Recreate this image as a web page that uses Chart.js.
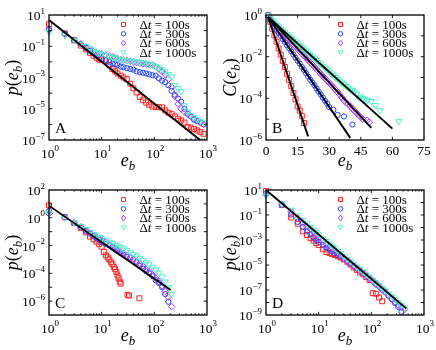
<!DOCTYPE html>
<html><head><meta charset="utf-8">
<script src="https://cdn.jsdelivr.net/npm/chart.js@4.4.0/dist/chart.umd.min.js"></script>
<style>
html,body{margin:0;padding:0;background:#fff;overflow:hidden}
#wrap{position:relative;width:436px;height:350px;background:#fff}
#wrap canvas{position:absolute}
</style></head><body>
<div id="wrap">
<canvas id="cA" width="218" height="175" style="left:0;top:0"></canvas>
<canvas id="cB" width="218" height="175" style="left:218px;top:0"></canvas>
<canvas id="cC" width="218" height="175" style="left:0;top:175px"></canvas>
<canvas id="cD" width="218" height="175" style="left:218px;top:175px"></canvas>
</div>
<script>
// ---------- shared ----------
const seriesNames = ['100s','300s','600s','1000s'];
const logXMajor = [1,10,100,1000];
const logXMinor = [2,3,4,5,6,7,8,9,20,30,40,50,60,70,80,90,200,300,400,500,600,700,800,900];

// ---------- panel A : p(e_b), log-log ----------
const aX = [1,2,3,4,5,6,7,8,9,10,12,14,16,18,20,23,26,30,35,40,46,53,61,70,80,92,106,122,140,161,185,213,245,282,324,373,429,493,567,652,750,862];
const aP100 = [2.6,0.66,0.24,0.11,6.3e-2,3.8e-2,2.5e-2,1.8e-2,1.4e-2,1.3e-2,1.1e-2,6.3e-3,3.5e-3,2.5e-3,1.8e-3,1.3e-3,1.0e-3,7.8e-4,4.0e-4,2.0e-4,1.1e-4,5.6e-5,3.5e-5,2.5e-5,1.8e-5,1.4e-5,1.3e-5,1.26e-5,1.2e-5,7.9e-6,5.6e-6,4.5e-6,3.2e-6,2.3e-6,1.8e-6,1.3e-6,6.6e-7,6.3e-7,5.0e-7,4.1e-7,3.2e-7,2.5e-7];
const aP300 = [1.3,0.63,0.25,0.14,7.9e-2,5.0e-2,3.5e-2,2.5e-2,2.0e-2,1.6e-2,1.3e-2,1.0e-2,7.9e-3,7.1e-3,6.3e-3,5.0e-3,4.5e-3,4.0e-3,3.5e-3,3.2e-3,2.5e-3,2.2e-3,2.0e-3,1.8e-3,1.6e-3,1.4e-3,1.3e-3,8.9e-4,6.3e-4,5.0e-4,3.2e-4,1.4e-4,7.9e-5,4.5e-5,2.8e-5,1.0e-5,5.0e-6,3.2e-6,2.0e-6,1.6e-6,1.4e-6,1.0e-6];
const aP600 = [1.1,0.56,0.25,0.14,8.9e-2,6.3e-2,4.5e-2,3.8e-2,3.4e-2,3.2e-2,2.8e-2,2.4e-2,2.1e-2,1.8e-2,1.6e-2,1.4e-2,1.3e-2,1.2e-2,1.1e-2,1.0e-2,9.1e-3,8.3e-3,7.6e-3,7.1e-3,6.6e-3,6.3e-3,5.0e-3,3.5e-3,2.5e-3,1.6e-3,7.9e-4,2.5e-4,6.3e-5,2.0e-5,1.0e-5,6.3e-6,4.5e-6,3.2e-6,2.5e-6,1.8e-6,1.3e-6,1.0e-6];
const aP1000 = [0.79,0.5,0.25,0.14,0.1,7.1e-2,5.0e-2,4.2e-2,3.6e-2,3.2e-2,2.6e-2,2.2e-2,2.0e-2,1.8e-2,1.6e-2,1.45e-2,1.35e-2,1.26e-2,1.17e-2,1.1e-2,1.02e-2,9.5e-3,8.9e-3,7.9e-3,7.1e-3,6.3e-3,5.2e-3,4.2e-3,3.2e-3,2.4e-3,1.6e-3,1.1e-3,3.2e-4,2.0e-4,1.26e-4,1.6e-5,6.3e-6,4.0e-6,2.8e-6,2.0e-6,1.6e-6,1.26e-6];
const aFitX = [1,740];
const aFitY = [4.8,1e-7];
const aYMarks = [1e1,1,1e-1,1e-2,1e-3,1e-4,1e-5,1e-6,1e-7];
const aYLabels = [1e1,1e-1,1e-3,1e-5,1e-7];

// ---------- panel B : C(e_b), lin-log ----------
const bX100 = [1,2,3,4,5,6,7,8,9,10,11,12,13,14,15,16,17,18];
const bC100 = [1,0.47,0.22,0.105,5.2e-2,2.5e-2,1.26e-2,6.3e-3,3.2e-3,1.5e-3,7.6e-4,3.8e-4,1.8e-4,8.9e-5,4.1e-5,2.6e-5,1.4e-5,6.5e-6];
const bX300 = [1,2,3,4,5,6,7,8,9,10,11,12,13,14,15,16,17,18,19,20,21,22,23,24,25,26,27,28,29,30,32,34,37,41];
const bC300 = [1,0.6,0.4,0.28,0.2,0.14,0.1,6.9e-2,5.0e-2,3.5e-2,2.5e-2,1.8e-2,1.26e-2,8.9e-3,6.3e-3,4.6e-3,3.2e-3,2.3e-3,1.6e-3,1.1e-3,7.9e-4,5.8e-4,4.2e-4,3.0e-4,2.1e-4,1.5e-4,1.07e-4,7.6e-5,5.6e-5,3.8e-5,2.8e-5,1.6e-5,1.35e-5,5.5e-6];
const bX600 = [1,2,3,4,5,6,7,8,9,10,11,12,13,14,15,16,17,18,19,20,21,22,23,24,25,26,27,28,29,30,31,32,33,34,35,36,37,38,39,40,41,42,43,44,45,46,48,49];
const bC600 = [1,0.66,0.48,0.37,0.28,0.22,0.17,0.14,0.107,8.3e-2,6.5e-2,5.0e-2,3.9e-2,3.0e-2,2.3e-2,1.8e-2,1.4e-2,1.1e-2,8.7e-3,6.8e-3,5.2e-3,4.1e-3,3.2e-3,2.5e-3,1.95e-3,1.5e-3,1.17e-3,9.1e-4,7.1e-4,5.5e-4,4.4e-4,3.4e-4,2.6e-4,2.0e-4,1.5e-4,1.1e-4,7.9e-5,6.3e-5,5.2e-5,4.2e-5,3.2e-5,2.5e-5,2.0e-5,1.5e-5,1.26e-5,1.0e-5,8.9e-6,7.1e-6];
const bX1000 = [1,2,3,4,5,6,7,8,9,10,11,12,13,14,15,16,17,18,19,20,21,22,23,24,25,26,27,28,29,30,31,32,33,34,35,36,37,38,39,40,41,42,43,44,45,46,47,48,50,52,54,63];
const bC1000 = [1,0.71,0.54,0.43,0.34,0.28,0.22,0.18,0.15,0.12,9.8e-2,7.9e-2,6.5e-2,5.2e-2,4.3e-2,3.5e-2,2.8e-2,2.3e-2,1.9e-2,1.5e-2,1.2e-2,1.0e-2,8.1e-3,6.6e-3,5.4e-3,4.4e-3,3.5e-3,2.9e-3,2.3e-3,1.9e-3,1.5e-3,1.26e-3,1.0e-3,8.3e-4,6.8e-4,5.5e-4,4.5e-4,3.8e-4,3.2e-4,2.6e-4,2.4e-4,2.0e-4,1.6e-4,1.1e-4,1.2e-4,1.0e-4,8.9e-5,7.9e-5,7.2e-5,4.6e-5,2.6e-5,7.8e-6];
const bFit100X = [1,20],  bFit100Y = [0.8,1.5e-6];
const bFit300X = [1,40],  bFit300Y = [0.8,1.26e-6];
const bFit600X = [1,50],  bFit600Y = [0.8,3.8e-6];
const bFit1000X = [1,60], bFit1000Y = [0.8,3.5e-6];
const bXTicks = [0,15,30,45,60,75];
const bYMarks = [1,1e-1,1e-2,1e-3,1e-4,1e-5,1e-6];
const bYLabels = [1,1e-2,1e-4,1e-6];

// ---------- panel C : p(e_b), log-log ----------
const cX = [1,2,3,4,5,6,7,8,9,10,12,14,16,18,20,23,26,30,35,40,46,53,61,70,80,92,106,122,140,161,185,213];
const cX100 = [1,2,3,4,5,6,7,8,9,10,11,12,13,14,15,16,17,18,19,20,21,22,23,31,33,52];
const cP100 = [7.9,1.1,0.42,0.18,8.9e-2,4.4e-2,2.8e-2,1.9e-2,1.26e-2,8.3e-3,3.5e-3,2.0e-3,1.4e-3,1.0e-3,6.3e-4,4.5e-4,2.8e-4,2.0e-4,1.26e-4,7.1e-5,4.4e-5,2.5e-5,1.8e-5,2.8e-6,2.5e-6,1.6e-6];
const cP300 = [3.1,1.15,0.4,0.2,0.11,7.1e-2,4.8e-2,3.4e-2,2.5e-2,1.9e-2,1.3e-2,1.0e-2,7.1e-3,5.2e-3,4.0e-3,2.8e-3,2.1e-3,1.6e-3,1.26e-3,1.0e-3,6.3e-4,3.5e-4,2.2e-4,1.4e-4,1.0e-4,6.3e-5,3.2e-5,2.0e-5,1.0e-5,3.2e-6,8.9e-7,null];
const cP600 = [2.0,1.0,0.45,0.22,0.126,7.9e-2,5.6e-2,4.0e-2,3.2e-2,2.5e-2,1.6e-2,1.1e-2,7.9e-3,6.3e-3,5.0e-3,3.5e-3,2.8e-3,2.0e-3,1.4e-3,1.0e-3,7.1e-4,5.0e-4,3.2e-4,2.0e-4,1.26e-4,7.9e-5,4.5e-5,2.5e-5,1.26e-5,5.0e-6,2.0e-6,4.0e-7];
const cP1000 = [2.2,1.0,0.47,0.25,0.15,9.5e-2,6.6e-2,5.0e-2,4.0e-2,3.3e-2,2.4e-2,1.8e-2,1.4e-2,1.1e-2,9.5e-3,7.6e-3,6.0e-3,4.5e-3,3.2e-3,2.4e-3,1.8e-3,1.26e-3,8.9e-4,6.3e-4,4.5e-4,2.8e-4,1.8e-4,1.1e-4,5.6e-5,2.5e-5,1.0e-5,3.2e-6];
const cFitX = [1,204];
const cFitY = [7.4,6.3e-6];
const cYMarks = [1e2,1e1,1,1e-1,1e-2,1e-3,1e-4,1e-5,1e-6,1e-7];
const cYLabels = [1e2,1,1e-2,1e-4,1e-6];

// ---------- panel D : p(e_b), log-log ----------
const dX = [1,2,3,4,5,6,7,8,9,10,12,14,16,18,20,23,26,30,35,40,46,53,61,70,80,92,106,122,140,161,185,213,245,282,324,373,429];
const dP100 = [8.3,0.63,6.3e-2,2.0e-2,5.0e-3,2.5e-3,1.4e-3,8.9e-4,5.6e-4,4.0e-4,1.8e-4,1.1e-4,8.9e-5,7.6e-5,6.3e-5,5.0e-5,4.0e-5,2.8e-5,1.8e-5,1.1e-5,6.3e-6,4.0e-6,2.5e-6,1.8e-6,1.1e-6,6.3e-7,5.6e-8,5.0e-8,2.5e-8,1.26e-8,null,null,null,null,null,null,null];
const dP300 = [5.4,0.63,0.11,2.8e-2,1.1e-2,5.0e-3,2.8e-3,1.6e-3,1.0e-3,7.1e-4,3.8e-4,2.4e-4,1.7e-4,1.2e-4,8.9e-5,6.3e-5,4.5e-5,3.2e-5,2.1e-5,1.4e-5,8.9e-6,5.6e-6,3.5e-6,2.4e-6,1.4e-6,8.9e-7,5.6e-7,3.5e-7,2.2e-7,1.26e-7,7.1e-8,3.5e-8,1.8e-8,8.9e-9,4.5e-9,1.8e-9,null];
const dP600 = [4.0,0.71,0.18,5.6e-2,2.5e-2,1.26e-2,7.1e-3,4.0e-3,2.5e-3,1.6e-3,7.9e-4,4.5e-4,2.8e-4,1.9e-4,1.3e-4,8.3e-5,5.2e-5,3.3e-5,2.0e-5,1.26e-5,7.9e-6,5.0e-6,3.2e-6,2.0e-6,1.26e-6,7.9e-7,5.0e-7,2.8e-7,1.8e-7,1.0e-7,6.3e-8,3.5e-8,2.0e-8,1.1e-8,6.3e-9,4.0e-9,2.8e-9];
const dP1000 = [3.5,0.79,0.25,8.9e-2,4.0e-2,2.0e-2,1.1e-2,6.6e-3,4.2e-3,2.8e-3,1.4e-3,7.9e-4,5.0e-4,3.3e-4,2.2e-4,1.3e-4,8.3e-5,5.0e-5,3.0e-5,1.9e-5,1.17e-5,7.1e-6,4.4e-6,2.7e-6,1.7e-6,1.05e-6,6.3e-7,3.8e-7,2.3e-7,1.4e-7,8.5e-8,5.0e-8,3.0e-8,1.8e-8,1.05e-8,6.3e-9,3.8e-9];
const dFitX = [1,460];
const dFitY = [10,3.4e-9];
const dYMarks = [1e1,1,1e-1,1e-2,1e-3,1e-4,1e-5,1e-6,1e-7,1e-8,1e-9];
const dYLabels = [1e1,1e-1,1e-3,1e-5,1e-7,1e-9];

// ---------- styles ----------
const SERIF = '"Liberation Serif","Times New Roman",serif';
const seriesColors = ['#ff2222','#2244ff','#b033f2','#55f0c6'];
const pointStyles = ['rect','circle','rectRot','triangle'];
const pointRots = [0,0,0,180];
const pointRadii = [3.5,2.6,3.3,3.6];

function font(size, it){ return (it ? 'italic ' : '') + size + 'px ' + SERIF; }
function segWidth(ctx, segs){ let w = 0; for (const s of segs){ ctx.font = font(s.s, s.i); w += ctx.measureText(s.t).width; } return w; }
function drawSegs(ctx, segs, x, y){
  let cx = x;
  for (const s of segs){ ctx.font = font(s.s, s.i); ctx.fillText(s.t, cx, y + (s.dy || 0)); cx += ctx.measureText(s.t).width; }
}
function expSegs(v){
  const k = Math.round(Math.log10(v));
  return [{t:'10', s:13.5}, {t:(k < 0 ? '\u2212' : '') + Math.abs(k), s:9, dy:-6.5}];
}
function drawMarker(ctx, k, x, y){
  ctx.beginPath();
  if (k === 0) ctx.rect(x - 2, y - 2, 4, 4);
  else if (k === 1) ctx.arc(x, y, 2.2, 0, Math.PI * 2);
  else if (k === 2){ ctx.moveTo(x, y - 2.8); ctx.lineTo(x + 2.2, y); ctx.lineTo(x, y + 2.8); ctx.lineTo(x - 2.2, y); ctx.closePath(); }
  else { ctx.moveTo(x - 2.6, y - 1.6); ctx.lineTo(x + 2.6, y - 1.6); ctx.lineTo(x, y + 2.6); ctx.closePath(); }
  ctx.stroke();
}

const panels = [
  {canvas:'cA', letter:'A', yName:'p', xType:'logarithmic', xMin:1, xMax:1000, yMin:1e-7, yMax:1e1, left:49, right:207,
   xMajor:logXMajor, xMinor:logXMinor, xLabels:logXMajor, yMarks:aYMarks, yLabels:aYLabels,
   series:[[aX,aP100],[aX,aP300],[aX,aP600],[aX,aP1000]], fits:[[aFitX,aFitY]]},
  {canvas:'cB', letter:'B', yName:'C', xType:'linear', xMin:0, xMax:75, yMin:1e-6, yMax:1, left:48, right:206,
   xMajor:bXTicks, xMinor:[], xLabels:bXTicks, yMarks:bYMarks, yLabels:bYLabels,
   series:[[bX100,bC100],[bX300,bC300],[bX600,bC600],[bX1000,bC1000]],
   fits:[[bFit100X,bFit100Y],[bFit300X,bFit300Y],[bFit600X,bFit600Y],[bFit1000X,bFit1000Y]]},
  {canvas:'cC', letter:'C', yName:'p', xType:'logarithmic', xMin:1, xMax:1000, yMin:1e-7, yMax:1e2, left:49, right:207,
   xMajor:logXMajor, xMinor:logXMinor, xLabels:logXMajor, yMarks:cYMarks, yLabels:cYLabels,
   series:[[cX100,cP100],[cX,cP300],[cX,cP600],[cX,cP1000]], fits:[[cFitX,cFitY]]},
  {canvas:'cD', letter:'D', yName:'p', xType:'logarithmic', xMin:1, xMax:1000, yMin:1e-9, yMax:1e1, left:48, right:206,
   xMajor:logXMajor, xMinor:logXMinor, xLabels:logXMajor, yMarks:dYMarks, yLabels:dYLabels,
   series:[[dX,dP100],[dX,dP300],[dX,dP600],[dX,dP1000]], fits:[[dFitX,dFitY]]}
];

const TOP = 15, BOTTOM = 140, H = 175, W = 218;

function decoPlugin(P){
  return {
    id: 'deco' + P.letter,
    afterDraw(chart){
      const ctx = chart.ctx, ca = chart.chartArea, xs = chart.scales.x, ys = chart.scales.y;
      ctx.save();
      ctx.fillStyle = '#000';
      ctx.strokeStyle = '#000';
      ctx.lineWidth = 1.3;
      ctx.strokeRect(ca.left, ca.top, ca.right - ca.left, ca.bottom - ca.top);
      ctx.lineWidth = 0.9;
      ctx.beginPath();
      const xt = (vals, len) => { for (const v of vals){ const p = xs.getPixelForValue(v);
        if (p <= ca.left + 0.5 || p >= ca.right - 0.5) continue;
        ctx.moveTo(p, ca.bottom); ctx.lineTo(p, ca.bottom - len); ctx.moveTo(p, ca.top); ctx.lineTo(p, ca.top + len); } };
      const yt = (vals, len) => { for (const v of vals){ const p = ys.getPixelForValue(v);
        if (p <= ca.top + 0.5 || p >= ca.bottom - 0.5) continue;
        ctx.moveTo(ca.left, p); ctx.lineTo(ca.left + len, p); ctx.moveTo(ca.right, p); ctx.lineTo(ca.right - len, p); } };
      xt(P.xMajor, 3.2); xt(P.xMinor, 1.7); yt(P.yMarks, 3.2);
      ctx.stroke();
      ctx.textAlign = 'left'; ctx.textBaseline = 'alphabetic';
      for (const v of P.yLabels){
        const p = ys.getPixelForValue(v), segs = expSegs(v), w = segWidth(ctx, segs);
        drawSegs(ctx, segs, ca.left - 4 - w, p + 5);
      }
      for (const v of P.xLabels){
        const p = xs.getPixelForValue(v);
        if (P.xType === 'logarithmic'){
          const segs = expSegs(v), w = segWidth(ctx, segs);
          drawSegs(ctx, segs, p - w / 2 + 1, ca.bottom + 17.5);
        } else {
          const segs = [{t:String(v), s:13.5}], w = segWidth(ctx, segs);
          drawSegs(ctx, segs, p - w / 2, ca.bottom + 14.5);
        }
      }
      const xT = [{t:'e', s:18, i:true}, {t:'b', s:13, i:true, dy:3.5}];
      drawSegs(ctx, xT, (ca.left + ca.right) / 2 - segWidth(ctx, xT) / 2, ca.bottom + 26);
      const yT = [{t:P.yName, s:18, i:true}, {t:'(', s:18}, {t:'e', s:18, i:true}, {t:'b', s:13, i:true, dy:3.5}, {t:')', s:18}];
      const yw = segWidth(ctx, yT);
      ctx.save();
      ctx.translate(18, (ca.top + ca.bottom) / 2);
      ctx.rotate(-Math.PI / 2);
      drawSegs(ctx, yT, -yw / 2, 0);
      ctx.restore();
      drawSegs(ctx, [{t:P.letter, s:15.5}], ca.left + 6, ca.bottom - 7);
      for (let k = 0; k < 4; k++){
        const cy = ca.top + 9.5 + 9.3 * k;
        ctx.strokeStyle = seriesColors[k]; ctx.lineWidth = 1;
        drawMarker(ctx, k, ca.right - 83.5, cy);
        ctx.fillStyle = '#000';
        drawSegs(ctx, [{t:'\u0394', s:13}, {t:'t', s:13, i:true}, {t:' = ' + seriesNames[k], s:13}], ca.right - 67.5, cy + 4.3);
      }
      ctx.restore();
    }
  };
}

for (const P of panels){
  const datasets = [];
  P.fits.forEach(([fx, fy]) => {
    datasets.push({data: fx.map((x, i) => ({x, y: fy[i]})), showLine:true, borderColor:'#000', borderWidth:1.9,
      pointRadius:0, fill:false, tension:0, order:0});
  });
  P.series.forEach(([sx, sy], k) => {
    const data = [];
    sx.forEach((x, i) => { if (sy[i] != null) data.push({x, y: sy[i]}); });
    datasets.push({data, showLine:false, pointStyle:pointStyles[k], pointRotation:pointRots[k], pointRadius:pointRadii[k],
      pointBorderColor:seriesColors[k], borderColor:seriesColors[k], pointBackgroundColor:'rgba(0,0,0,0)',
      backgroundColor:'rgba(0,0,0,0)', pointBorderWidth:1, order:4 - k, clip:false});
  });
  new Chart(document.getElementById(P.canvas), {
    type:'scatter',
    data:{datasets},
    options:{
      responsive:false, maintainAspectRatio:false, animation:false, events:[],
      layout:{padding:{left:0, right:W - P.right, top:TOP, bottom:0}},
      plugins:{legend:{display:false}, tooltip:{enabled:false}},
      scales:{
        x:{type:P.xType, min:P.xMin, max:P.xMax, grid:{display:false}, border:{display:false}, ticks:{display:false},
           afterFit(s){ s.height = H - BOTTOM; }},
        y:{type:'logarithmic', min:P.yMin, max:P.yMax, grid:{display:false}, border:{display:false}, ticks:{display:false},
           afterFit(s){ s.width = P.left; }}
      }
    },
    plugins:[decoPlugin(P)]
  });
}
</script>
</body></html>
